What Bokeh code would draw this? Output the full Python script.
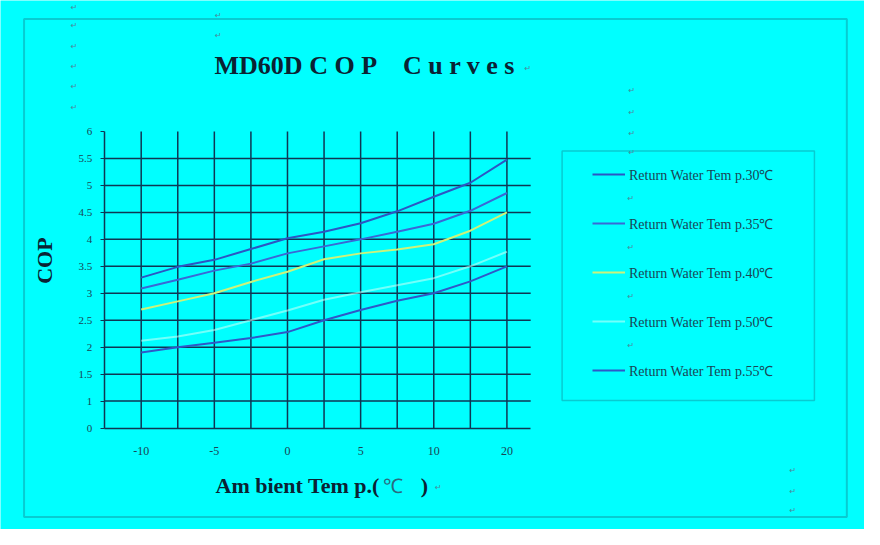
import numpy as np
from bokeh.plotting import figure
from bokeh.models import (Range1d, FixedTicker, Label, BoxAnnotation, Legend,
                          LegendItem, LinearAxis)
from bokeh.embed import file_html
from bokeh.resources import INLINE

# ---------------- data ----------------
x_tick_values = [-10, -5, 0, 5, 10, 20]
x_tick_labels = ["-10", "-5", "0", "5", "10", "20"]
ambient = [-10, -7.5, -5, -2.5, 0, 2.5, 5, 7.5, 10, 15, 20]

cop_30 = [3.29, 3.49, 3.62, 3.82, 4.02, 4.14, 4.30, 4.52, 4.79, 5.05, 5.48]
cop_35 = [3.09, 3.25, 3.42, 3.55, 3.74, 3.87, 4.00, 4.14, 4.29, 4.53, 4.86]
cop_40 = [2.70, 2.85, 3.00, 3.21, 3.40, 3.63, 3.74, 3.81, 3.91, 4.16, 4.50]
cop_50 = [2.12, 2.20, 2.32, 2.50, 2.68, 2.88, 3.02, 3.15, 3.28, 3.50, 3.77]
cop_55 = [1.90, 2.00, 2.08, 2.17, 2.28, 2.50, 2.69, 2.86, 3.00, 3.22, 3.50]

series_names = ["Return Water Tem p.30℃", "Return Water Tem p.35℃",
                "Return Water Tem p.40℃", "Return Water Tem p.50℃",
                "Return Water Tem p.55℃"]
y_tick_values = [1.0, 1.5, 2.0, 2.5, 3.0, 3.5, 4.0, 4.5, 5.0, 5.5, 6.0]
y_bottom_label = "0"

# ---------------- style ----------------
BG = "#00ffff"
GRID = "#0f3654"
TXT = "#1a4555"
DARK = "#0b2233"
colors = ["#2c56c4", "#3a68d6", "#cdf27a", "#d2fff6", "#2f58c8"]
alphas = [1, 1, 1, 0.55, 1]

W, H = 864, 529
KX, KY = W / 880, H / 545          # reference-page px -> canvas px

# plot-area geometry (canvas px)
X_LEFT, X_RIGHT = 105.7 * KX, 540 * KX
X_FIRST, X_STEP = 143.3 * KX, 74.5 * KX
Y_ONE, Y_SIX = 412.7 * KY, 135 * KY
Y_UNIT = (Y_ONE - Y_SIX) / 5

x_lo = (X_LEFT - X_FIRST) / X_STEP
x_hi = (X_RIGHT - X_FIRST) / X_STEP
y_lo, y_hi = 0.5, 6.0

x_range = Range1d((0 - X_FIRST) / X_STEP, (W - X_FIRST) / X_STEP)
y_range = Range1d(1 - (H - Y_ONE) / Y_UNIT, 6 + Y_SIX / Y_UNIT)

p = figure(width=W, height=H, output_backend="svg", toolbar_location=None,
           x_range=x_range, y_range=y_range,
           x_axis_location=None, y_axis_location=None,
           min_border=0, background_fill_color=BG, border_fill_color=BG,
           outline_line_color=None)
p.grid.visible = False

x_pos = np.interp(ambient, x_tick_values, np.arange(len(x_tick_values)))

# grid lines (bounded to plot area)
gx = [k * 0.5 for k in range(2 * len(x_tick_values) - 1)]
p.segment(x0=gx, x1=gx, y0=[y_lo] * len(gx), y1=[y_hi] * len(gx),
          line_color=GRID, line_width=1.5)
gy = y_tick_values[:-1]
p.segment(x0=[x_lo] * len(gy), x1=[x_hi] * len(gy), y0=gy, y1=gy,
          line_color=GRID, line_width=1.5)

# axes (fixed inside the frame)
xaxis = LinearAxis(fixed_location=y_lo, bounds=(x_lo, x_hi),
                   ticker=FixedTicker(ticks=list(range(len(x_tick_values)))))
xaxis.major_label_overrides = {i: t for i, t in enumerate(x_tick_labels)}
yaxis = LinearAxis(fixed_location=x_lo, bounds=(y_lo, y_hi),
                   ticker=FixedTicker(ticks=[y_lo] + y_tick_values))
ov = {y_lo: y_bottom_label}
ov.update({v: f"{v:g}" for v in y_tick_values})
yaxis.major_label_overrides = ov
for ax in (xaxis, yaxis):
    ax.axis_line_color = GRID
    ax.axis_line_width = 1.5
    ax.minor_tick_line_color = None
    ax.major_label_text_font = "Liberation Serif"
    ax.major_label_text_color = TXT
xaxis.major_tick_line_color = None
xaxis.major_label_text_font_size = "12px"
xaxis.major_label_standoff = 13
yaxis.major_tick_line_color = GRID
yaxis.major_tick_out = 4
yaxis.major_tick_in = 0
yaxis.major_label_text_font_size = "11px"
yaxis.major_label_standoff = 8
p.add_layout(xaxis, "below")
p.add_layout(yaxis, "left")

# data lines
renderers = []
for ys, c, a in zip([cop_30, cop_35, cop_40, cop_50, cop_55], colors, alphas):
    renderers.append(p.line(x_pos, ys, line_color=c, line_width=2, line_alpha=a))

# reference-page px -> screen units (from bottom-left of canvas)
def sx(X):
    return X * KX
def sy(Y):
    return H - Y * KY

ENTRY_GAP = int(round(50 * KY))
legend = Legend(items=[LegendItem(label=n, renderers=[r]) for n, r in zip(series_names, renderers)],
                location=(sx(603), sy(181.7 + 4 * 50) - 10), padding=0,
                spacing=ENTRY_GAP - 20, label_height=20, glyph_height=20,
                glyph_width=33, label_standoff=4,
                border_line_color=None, background_fill_alpha=0,
                label_text_font="Liberation Serif", label_text_font_size="14px",
                label_text_color=TXT)
p.add_layout(legend)

# legend box and outer frame
p.add_layout(BoxAnnotation(left=sx(572), right=sx(829), top=sy(155), bottom=sy(412),
                           left_units="screen", right_units="screen",
                           top_units="screen", bottom_units="screen",
                           fill_alpha=0, line_color="#1a5468", line_width=1.5))
p.add_layout(BoxAnnotation(left=sx(24), right=sx(862), top=sy(19), bottom=sy(532),
                           left_units="screen", right_units="screen",
                           top_units="screen", bottom_units="screen",
                           fill_alpha=0, line_color="#1a5468", line_width=2))

# title and axis titles
def lab(X, Y, text, size, bold=True, color=DARK, align="left", angle=0.0):
    p.add_layout(Label(x=sx(X), y=sy(Y), x_units="screen", y_units="screen",
                       text=text, angle=angle, text_font="Liberation Serif",
                       text_font_style="bold" if bold else "normal",
                       text_font_size=size, text_color=color,
                       text_align=align, text_baseline="middle"))

lab(218, 67, "MD60D C O P\u00a0\u00a0\u00a0 C u r v e s", "26px")
lab(45, 268, "COP", "22px", align="center", angle=np.pi / 2)
lab(219, 500, "Am bient Tem p.(", "22px")
lab(390, 500, "℃", "20px", bold=False, color="#2a6a80")
lab(428, 500, ")", "22px")

# faint paragraph marks
marks = [(75, 7), (75, 26), (75, 47), (75, 68), (75, 89), (75, 110),
         (222, 15), (222, 36), (643, 93), (643, 115), (643, 137), (643, 157),
         (642, 204), (642, 254), (642, 305), (642, 355),
         (807, 484), (807, 506), (807, 525), (537, 70), (446, 502)]
for X, Y in marks:
    p.add_layout(Label(x=sx(X), y=sy(Y), x_units="screen", y_units="screen",
                       text="↵", text_font="DejaVu Sans", text_font_size="8px",
                       text_color="#4a8a9a", text_align="center",
                       text_baseline="middle"))

open("out.html", "w").write(file_html(p, INLINE))
